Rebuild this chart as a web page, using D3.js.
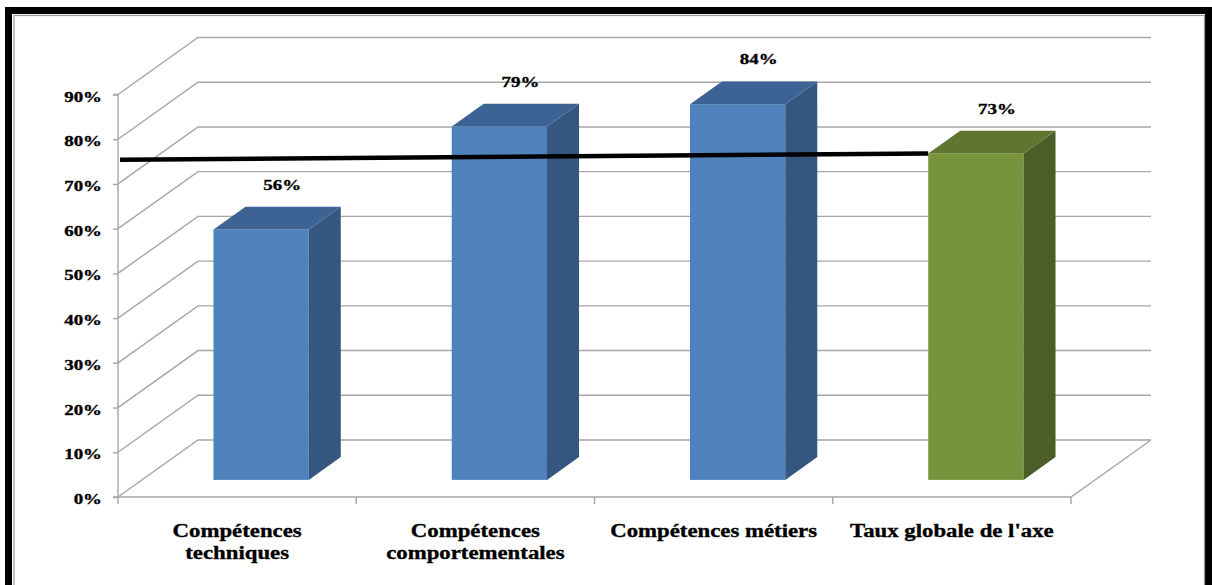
<!DOCTYPE html>
<html>
<head>
<meta charset="utf-8">
<script src="https://cdn.jsdelivr.net/npm/d3@7/dist/d3.min.js"></script>
<style>
  html, body { margin: 0; padding: 0; background: #fff; }
  svg { display: block; }
  text { font-family: "Liberation Serif", "Times New Roman", serif; font-weight: bold; fill: #000; stroke: #000; stroke-width: 0.35px; }
</style>
</head>
<body>
<svg id="chart" width="1212" height="585"></svg>
<script>
// Taux de maîtrise par type de compétence
const categories = ["Compétences techniques", "Compétences comportementales", "Compétences métiers", "Taux globale de l'axe"];
const values = [56, 79, 84, 73];
const yTicks = [0, 10, 20, 30, 40, 50, 60, 70, 80, 90];
// trait de repère tracé jusqu'au taux global (valeur au départ, valeur à l'arrivée)
const guideValues = [71.6, 73];

const frontFill = ["#4f81bd", "#4f81bd", "#4f81bd", "#77933c"];
const topFill   = ["#3d6395", "#3d6395", "#3d6395", "#5f7530"];
const sideFill  = ["#34567f", "#34567f", "#34567f", "#4b5e27"];

const svg = d3.select("#chart");

// perspective: full depth of the box shifts right / up
const DX = 80, DY = 57;
const barFront = 0.3, barBack = 0.7;
const STRETCH = 1.22;

const x = d3.scaleBand().domain(categories).range([118, 1071]).paddingInner(0).paddingOuter(0);
const y = d3.scaleLinear().domain([0, 90]).range([497, 94.5]);
const barW = x.bandwidth() * 0.4;

const px = (vx, d) => vx + DX * d;
const py = (v, d) => y(v) - DY * d;

// frame
svg.append("rect").attr("x", 8.5).attr("y", 10.5).attr("width", 1200).attr("height", 700)
  .attr("fill", "none").attr("stroke", "#000").attr("stroke-width", 7);
svg.append("rect").attr("x", 14).attr("y", 15.5).attr("width", 1190.5).attr("height", 700)
  .attr("fill", "none").attr("stroke", "#9a9a9a").attr("stroke-width", 1.2);

const gridColor = "#a6a6a6";
const x0 = x.range()[0], x1 = x.range()[1];

// back wall and side wall grid lines
svg.append("g").selectAll("path").data(yTicks).join("path")
  .attr("d", v => `M${x0},${y(v)}L${px(x0, 1)},${py(v, 1)}L${px(x1, 1)},${py(v, 1)}`)
  .attr("fill", "none").attr("stroke", gridColor).attr("stroke-width", 1.4);

// floor front and right edges
svg.append("path")
  .attr("d", `M${x0},${y(0)}L${x1},${y(0)}L${px(x1, 1)},${py(0, 1)}`)
  .attr("fill", "none").attr("stroke", gridColor).attr("stroke-width", 1.4);

// category separators
const bounds = categories.map(c => x(c)).concat([x1]);
svg.append("g").selectAll("line").data(bounds).join("line")
  .attr("x1", d => d).attr("x2", d => d).attr("y1", y(0)).attr("y2", y(0) + 7)
  .attr("stroke", gridColor).attr("stroke-width", 1.4);

// y axis
const yAxis = svg.append("g").attr("transform", `translate(${x0},0)`)
  .call(d3.axisLeft(y).tickValues(yTicks).tickSize(5).tickFormat(d => d + "%"));
yAxis.select(".domain").attr("stroke", gridColor).attr("stroke-width", 1.4).attr("d", `M-5,${y(90)}H0V${y(0)}H-5`);
yAxis.selectAll(".tick line").attr("stroke", gridColor).attr("stroke-width", 1.4);
yAxis.selectAll(".tick text")
  .attr("x", -16 / STRETCH).attr("dy", "0.42em")
  .attr("transform", `scale(${STRETCH},1)`)
  .style("font-family", "'Liberation Serif', 'Times New Roman', serif")
  .style("font-weight", "bold").style("font-size", "15.5px").attr("fill", "#000");

// bars
const bars = svg.append("g").selectAll("g").data(values.map((v, i) => ({ v, i, c: categories[i] }))).join("g");
const geo = d => {
  const cx = x(d.c) + x.bandwidth() / 2;
  const xl = px(cx - barW / 2, barFront), xr = px(cx + barW / 2, barFront);
  const sx = DX * (barBack - barFront), sy = DY * (barBack - barFront);
  return { xl, xr, sx, sy, yt: py(d.v, barFront), yb: py(0, barFront) };
};
bars.append("rect")
  .attr("x", d => geo(d).xl).attr("y", d => geo(d).yt)
  .attr("width", d => geo(d).xr - geo(d).xl).attr("height", d => geo(d).yb - geo(d).yt)
  .attr("fill", d => frontFill[d.i]);
bars.append("path")
  .attr("d", d => { const g = geo(d); return `M${g.xr},${g.yt}L${g.xr + g.sx},${g.yt - g.sy}L${g.xr + g.sx},${g.yb - g.sy}L${g.xr},${g.yb}Z`; })
  .attr("fill", d => sideFill[d.i]);
bars.append("path")
  .attr("d", d => { const g = geo(d); return `M${g.xl},${g.yt}L${g.xr},${g.yt}L${g.xr + g.sx},${g.yt - g.sy}L${g.xl + g.sx},${g.yt - g.sy}Z`; })
  .attr("fill", d => topFill[d.i]);

// guide line towards the global rate
const last = categories[categories.length - 1];
const gEnd = geo({ v: values[values.length - 1], c: last });
svg.append("line")
  .attr("x1", x0 + 2).attr("y1", py(guideValues[0], barFront))
  .attr("x2", gEnd.xl).attr("y2", py(guideValues[1], barFront))
  .attr("stroke", "#000").attr("stroke-width", 4.5);

// value labels
svg.append("g").selectAll("text").data(values.map((v, i) => ({ v, c: categories[i] }))).join("text")
  .attr("transform", d => `translate(${x(d.c) + x.bandwidth() / 2 + 45},${py(d.v, 0.5) - 28.5}) scale(${STRETCH},1)`)
  .attr("text-anchor", "middle").style("font-size", "15.5px")
  .text(d => d.v + "%");

// category labels, wrapped to the band width
const catG = svg.append("g").selectAll("text").data(categories).join("text")
  .attr("transform", d => `translate(${x(d) + x.bandwidth() / 2},537) scale(${STRETCH - 0.02},1)`)
  .attr("text-anchor", "middle").style("font-size", "19px");
catG.each(function (d) {
  const t = d3.select(this);
  const words = d.split(" ");
  const maxW = (x.bandwidth() - 6) / (STRETCH - 0.02);
  let lines = [], cur = [];
  words.forEach(w => {
    const trial = cur.concat([w]).join(" ");
    t.text(trial);
    if (this.getComputedTextLength() > maxW && cur.length) { lines.push(cur.join(" ")); cur = [w]; }
    else cur.push(w);
  });
  lines.push(cur.join(" "));
  t.text(null);
  lines.forEach((l, k) => t.append("tspan").attr("x", 0).attr("dy", k ? 22 : 0).text(l));
});
</script>
</body>
</html>
